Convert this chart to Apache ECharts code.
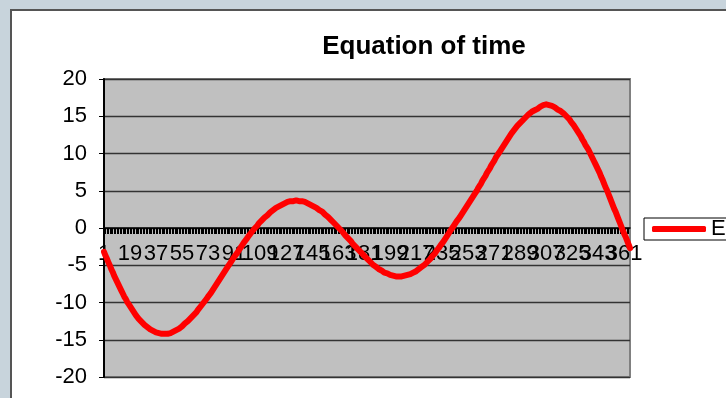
<!DOCTYPE html>
<html>
<head>
<meta charset="utf-8">
<script src="https://cdn.jsdelivr.net/npm/echarts@6/dist/echarts.min.js"></script>
<style>
  html, body { margin: 0; padding: 0; width: 726px; height: 398px; overflow: hidden; background: #c8d4dc; }
  #frame { position: absolute; left: 10px; top: 9px; width: 716px; height: 389px; background: #fff;
           border-left: 2px solid #555; border-top: 2px solid #555; box-sizing: border-box; }
  #chart { position: absolute; left: 0; top: 0; width: 726px; height: 398px; }
</style>
</head>
<body>
<div id="frame"></div>
<div id="chart"></div>
<script>
var titleText = 'Equation of time';
var seriesName = 'EoT';
var yTicks = [-20, -15, -10, -5, 0, 5, 10, 15, 20];
var labelEvery = 18;

var jan = [-3.2,-3.7,-4.1,-4.6,-5.0,-5.5,-5.9,-6.4,-6.8,-7.2,
           -7.6,-8.0,-8.4,-8.8,-9.2,-9.5,-9.9,-10.2,-10.5,-10.8,
           -11.1,-11.4,-11.7,-11.9,-12.2,-12.4,-12.6,-12.8,-13.0,-13.2,-13.3];
var feb = [-13.5,-13.6,-13.7,-13.8,-13.9,-14.0,-14.1,-14.1,-14.2,-14.2,
           -14.2,-14.2,-14.2,-14.2,-14.1,-14.1,-14.0,-13.9,-13.8,-13.7,
           -13.6,-13.5,-13.3,-13.2,-13.0,-12.8,-12.7,-12.5];
var mar = [-12.3,-12.1,-11.9,-11.7,-11.5,-11.3,-11.0,-10.8,-10.5,-10.3,
           -10.0,-9.8,-9.5,-9.2,-9.0,-8.7,-8.4,-8.1,-7.8,-7.5,
           -7.2,-6.9,-6.6,-6.3,-6.0,-5.7,-5.4,-5.1,-4.8,-4.5,-4.2];
var apr = [-3.9,-3.7,-3.4,-3.1,-2.8,-2.5,-2.2,-1.9,-1.7,-1.4,
           -1.1,-0.9,-0.6,-0.4,-0.1,0.1,0.3,0.6,0.8,1.0,
           1.2,1.4,1.6,1.7,1.9,2.1,2.2,2.4,2.5,2.7];
var may = [2.8,2.9,3.0,3.1,3.2,3.3,3.4,3.5,3.5,3.6,
           3.6,3.6,3.7,3.7,3.7,3.6,3.6,3.6,3.5,3.5,
           3.4,3.3,3.2,3.1,3.0,2.9,2.8,2.7,2.6,2.4,2.3];
var jun = [2.2,2.0,1.8,1.7,1.5,1.3,1.1,0.9,0.7,0.5,
           0.3,0.1,-0.1,-0.3,-0.5,-0.7,-1.0,-1.2,-1.4,-1.6,
           -1.8,-2.1,-2.3,-2.5,-2.7,-2.9,-3.1,-3.3,-3.5,-3.7];
var jul = [-3.9,-4.1,-4.3,-4.5,-4.7,-4.9,-5.0,-5.2,-5.3,-5.5,
           -5.6,-5.7,-5.8,-6.0,-6.0,-6.1,-6.2,-6.3,-6.3,-6.4,
           -6.4,-6.5,-6.5,-6.5,-6.5,-6.5,-6.5,-6.4,-6.4,-6.3,-6.3];
var aug = [-6.2,-6.1,-6.0,-5.9,-5.8,-5.7,-5.5,-5.4,-5.2,-5.0,
           -4.9,-4.7,-4.5,-4.3,-4.1,-3.8,-3.6,-3.4,-3.1,-2.9,
           -2.6,-2.3,-2.1,-1.8,-1.5,-1.2,-0.9,-0.6,-0.3,0.0,0.3];
var sep = [0.6,0.9,1.1,1.4,1.7,2.0,2.3,2.6,2.9,3.2,
           3.5,3.8,4.1,4.4,4.7,5.0,5.4,5.7,6.0,6.4,
           6.7,7.0,7.4,7.7,8.0,8.4,8.7,9.0,9.4,9.7];
var oct = [10.0,10.3,10.6,10.9,11.2,11.5,11.8,12.1,12.4,12.7,
           12.9,13.2,13.4,13.7,13.9,14.1,14.3,14.5,14.7,14.9,
           15.1,15.3,15.4,15.6,15.7,15.8,15.9,16.0,16.2,16.3,16.4];
var nov = [16.5,16.5,16.6,16.6,16.5,16.5,16.4,16.3,16.2,16.1,
           15.9,15.8,15.7,15.5,15.4,15.2,15.0,14.8,14.6,14.3,
           14.1,13.8,13.5,13.2,12.9,12.6,12.3,11.9,11.6,11.2];
var dec = [10.9,10.6,10.2,9.8,9.4,9.0,8.6,8.2,7.8,7.4,
           6.9,6.5,6.0,5.5,5.1,4.6,4.1,3.6,3.1,2.6,
           2.2,1.7,1.2,0.7,0.2,-0.3,-0.8,-1.2,-1.7,-2.2,-2.7];

var values = [].concat(jan, feb, mar, apr, may, jun, jul, aug, sep, oct, nov, dec);
var days = values.map(function (v, i) { return String(i + 1); });
var lastIndex = days.length - 1;

var FONT = '"Liberation Sans", Arial, sans-serif';
var GRID_TOP = 79, GRID_BOTTOM = 21, H = 398;
// offset that places the category axis on y = 0 (middle of the -20..20 range)
var zeroOffset = -((H - GRID_TOP - GRID_BOTTOM) / 2);

var chart = echarts.init(document.getElementById('chart'), null, { renderer: 'canvas' });
chart.setOption({
  backgroundColor: 'transparent',
  animation: false,
  title: {
    text: titleText,
    left: 419, textAlign: 'center',
    top: 29,
    textStyle: { fontFamily: FONT, fontSize: 26, fontWeight: 'bold', color: '#000' }
  },
  legend: {
    left: 644, top: 218,
    padding: [0, 6, 0, 8],
    borderColor: '#000', borderWidth: 1,
    backgroundColor: '#fff',
    itemWidth: 54, itemHeight: 6,
    icon: 'roundRect',
    data: [seriesName],
    textStyle: { fontFamily: FONT, fontSize: 22, color: '#000' }
  },
  grid: {
    left: 104, right: 96, top: GRID_TOP, bottom: GRID_BOTTOM,
    show: true, backgroundColor: '#c0c0c0',
    borderColor: '#808080', borderWidth: 2,
    containLabel: false,
    outerBoundsMode: 'none'
  },
  xAxis: {
    type: 'category',
    data: days,
    boundaryGap: false,
    position: 'bottom',
    offset: zeroOffset,
    axisLine: { onZero: false, lineStyle: { color: '#000', width: 1.5 } },
    axisTick: { show: true, interval: 0, length: 6, lineStyle: { color: '#000', width: 1 } },
    axisLabel: {
      // every 18th day is labelled; the final day is a blank placeholder that gets dropped
      interval: function (index) { return index % labelEvery === 0 || index === lastIndex; },
      formatter: function (value, index) { return index === lastIndex ? '' : value; },
      showMinLabel: true, showMaxLabel: false,
      margin: 15, hideOverlap: false,
      fontFamily: FONT, fontSize: 22, color: '#000'
    },
    splitLine: { show: false }
  },
  yAxis: {
    type: 'value',
    min: yTicks[0], max: yTicks[yTicks.length - 1], interval: 5,
    axisLine: { show: true, lineStyle: { color: '#000', width: 2 } },
    axisTick: { show: true, length: 5, lineStyle: { color: '#000', width: 1 } },
    axisLabel: { margin: 17, fontFamily: FONT, fontSize: 22, color: '#000' },
    splitLine: { show: true, lineStyle: { color: '#333', width: 1.3 } }
  },
  series: [{
    name: seriesName,
    type: 'line',
    data: values,
    showSymbol: false,
    symbol: 'none',
    smooth: false,
    lineStyle: { color: '#ff0000', width: 6, cap: 'round', join: 'round' },
    itemStyle: { color: '#ff0000' },
    z: 3
  }]
});
</script>
</body>
</html>
